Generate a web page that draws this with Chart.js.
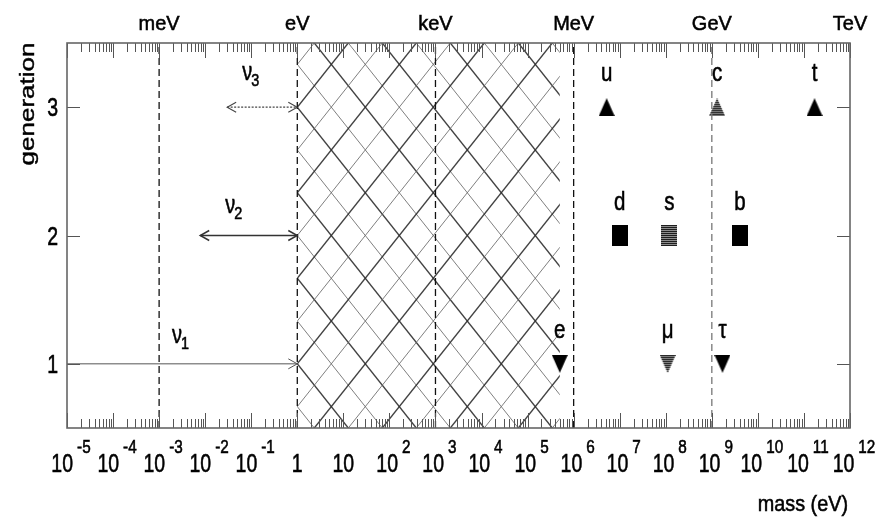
<!DOCTYPE html>
<html><head><meta charset="utf-8">
<script src="https://cdn.jsdelivr.net/npm/chart.js@4/dist/chart.umd.min.js"></script>
<style>html,body{margin:0;padding:0;background:#fff;}#wrap{width:888px;height:518px;}</style>
</head><body><div id="wrap"><canvas id="c" width="888" height="518"></canvas></div>
<script>
// ---- data ----
const xTickValues = [1e-5,1e-4,1e-3,1e-2,1e-1,1,10,1e2,1e3,1e4,1e5,1e6,1e7,1e8,1e9,1e10,1e11,1e12];
const xTickBase = ['10','10','10','10','10','1','10','10','10','10','10','10','10','10','10','10','10','10'];
const xTickSup  = ['-5','-4','-3','-2','-1','','','2','3','4','5','6','7','8','9','10','11','12'];
const yTickValues = [1,2,3];
const yTickLabels = ['1','2','3'];
const unitValues = [1e-3,1,1e3,1e6,1e9,1e12];
const unitLabels = ['meV','eV','keV','MeV','GeV','TeV'];
const dashedValues = [1e-3,1,1e3,1e6,1e9];
const hatchRange = [1,5e5];
const nuNames = ['ν','ν','ν'];
const nuSubs = ['1','2','3'];
const nuLow = [1e-5,7.8e-3,3.0e-2];
const nuHigh = [1,1,1];
const nuGen = [1,2,3];
const gen3Names = ['u','c','t'];  const gen3Mass = [5.2e6,1.3e9,1.7e11];
const gen2Names = ['d','s','b'];  const gen2Mass = [1.0e7,1.2e8,4.1e9];
const gen1Names = ['e','μ','τ'];  const gen1Mass = [5.0e5,1.1e8,1.7e9];

// ---- styling helpers ----
const FONT = '"Liberation Sans", Arial, Helvetica, sans-serif';
function makeMarker(shape, gray){
  const w=16, h=(shape==='rect')?21:18;
  const c=document.createElement('canvas'); c.width=w; c.height=h;
  const g=c.getContext('2d');
  g.beginPath();
  if(shape==='up'){g.moveTo(w/2,0);g.lineTo(w,h);g.lineTo(0,h);}
  else if(shape==='down'){g.moveTo(0,0);g.lineTo(w,0);g.lineTo(w/2,h);}
  else g.rect(0,0,w,h);
  g.closePath();
  if(gray){
    g.fillStyle='#8c8c8c'; g.fill(); g.save(); g.clip();
    g.fillStyle='#1e1e1e'; for(let y=0;y<h;y+=2) g.fillRect(0,y,w,1);
    g.restore();
  } else { g.fillStyle='#000'; g.fill(); }
  return c;
}
const grayIndex = 1;
const mk = {
  up:[makeMarker('up',false),makeMarker('up',true)],
  rect:[makeMarker('rect',false),makeMarker('rect',true)],
  down:[makeMarker('down',false),makeMarker('down',true)]
};
function txt(ctx,s,x,y,size,align,sx,color){
  ctx.save(); ctx.font=size+'px '+FONT; ctx.fillStyle=color||'#000'; ctx.strokeStyle=color||'#000';
  ctx.lineWidth=0.55; ctx.textAlign=align; ctx.textBaseline='alphabetic';
  ctx.translate(x,y); ctx.scale(sx,1); ctx.fillText(s,0,0); ctx.strokeText(s,0,0); ctx.restore();
}
function tw(ctx,s,size,sx){ ctx.save(); ctx.font=size+'px '+FONT; const w=ctx.measureText(s).width*sx; ctx.restore(); return w; }

// ---- datasets ----
const datasets = [];
dashedValues.forEach((v,i)=>{
  datasets.push({data:[{x:v,y:0.5},{x:v,y:3.5}],showLine:true,pointRadius:0,
    borderColor:(v===1e9)?'#777':'#111',borderWidth:1.3,borderDash:[7,4]});
});
const nuStyles=[{c:'#555',w:1,d:[]},{c:'#333',w:1.6,d:[]},{c:'#444',w:1.2,d:[2,1.5]}];
nuLow.forEach((lo,i)=>{
  datasets.push({data:[{x:lo,y:nuGen[i]},{x:nuHigh[i],y:nuGen[i]}],showLine:true,pointRadius:0,
    borderColor:nuStyles[i].c,borderWidth:nuStyles[i].w,borderDash:nuStyles[i].d,nu:i});
});
function particleSet(names,mass,gen,shape){
  return {data:mass.map(m=>({x:m,y:gen})),names:names,showLine:false,pointRadius:10,
    pointStyle:(ctx)=>mk[shape][ctx.dataIndex===grayIndex?1:0]};
}
datasets.push(particleSet(gen3Names,gen3Mass,3,'up'));
datasets.push(particleSet(gen2Names,gen2Mass,2,'rect'));
datasets.push(particleSet(gen1Names,gen1Mass,1,'down'));

// ---- plugins ----
const hatchPlugin = {
  id:'hatch',
  beforeDatasetsDraw(chart){
    const ctx=chart.ctx, xs=chart.scales.x, ys=chart.scales.y, a=chart.chartArea;
    const x1=xs.getPixelForValue(hatchRange[0]), x2=xs.getPixelForValue(hatchRange[1]);
    const y0=ys.getPixelForValue(3);
    const P=(ys.getPixelForValue(2)-ys.getPixelForValue(3))/3;
    const Hx=34;
    ctx.save(); ctx.beginPath(); ctx.rect(x1,a.top,x2-x1,a.bottom-a.top); ctx.clip();
    for(let k=-40;k<=40;k++){
      const dark = (k%2===0);
      ctx.strokeStyle = dark?'rgba(45,45,45,0.9)':'rgba(105,105,105,0.85)';
      ctx.lineWidth = dark?1.4:1.0;
      const xa=x1-10, xb=x2+10;
      ctx.beginPath();
      ctx.moveTo(xa, y0+P*(k+(xa-x1)/Hx)); ctx.lineTo(xb, y0+P*(k+(xb-x1)/Hx));
      ctx.stroke();
      ctx.beginPath();
      ctx.moveTo(xa, y0+P*(k-(xa-x1)/Hx)); ctx.lineTo(xb, y0+P*(k-(xb-x1)/Hx));
      ctx.stroke();
    }
    ctx.restore();
  }
};
const framePlugin = {
  id:'frame',
  afterDatasetsDraw(chart){
    const ctx=chart.ctx, xs=chart.scales.x, ys=chart.scales.y, a=chart.chartArea;
    ctx.save();
    ctx.strokeStyle='#555'; ctx.lineWidth=1;
    ctx.beginPath();
    for(let d=-5; d<=12; d++){
      const px=Math.round(xs.getPixelForValue(Math.pow(10,d)))+0.5;
      ctx.moveTo(px,a.bottom); ctx.lineTo(px,a.bottom-15);
      ctx.moveTo(px,a.top); ctx.lineTo(px,a.top+15);
      if(d<12) for(let k=2;k<=9;k++){
        const p=Math.round(xs.getPixelForValue(k*Math.pow(10,d)))+0.5;
        ctx.moveTo(p,a.bottom); ctx.lineTo(p,a.bottom-9);
        ctx.moveTo(p,a.top); ctx.lineTo(p,a.top+9);
      }
    }
    yTickValues.forEach(v=>{
      const py=Math.round(ys.getPixelForValue(v))+0.5;
      ctx.moveTo(a.left,py); ctx.lineTo(a.left+13,py);
      ctx.moveTo(a.right,py); ctx.lineTo(a.right-13,py);
    });
    ctx.stroke();
    ctx.strokeStyle='#666'; ctx.lineWidth=1.6;
    ctx.strokeRect(a.left,a.top,a.right-a.left,a.bottom-a.top);
    chart.data.datasets.forEach((ds,i)=>{
      if(ds.nu===undefined) return;
      const j=ds.nu, y=ys.getPixelForValue(nuGen[j]);
      const xr=xs.getPixelForValue(nuHigh[j]), xl=xs.getPixelForValue(nuLow[j]);
      ctx.strokeStyle=ds.borderColor; ctx.lineWidth=Math.max(1,ds.borderWidth*0.9); ctx.setLineDash([]);
      ctx.beginPath();
      ctx.moveTo(xr-9,y-5); ctx.lineTo(xr,y); ctx.lineTo(xr-9,y+5);
      if(j>0){ ctx.moveTo(xl+9,y-5); ctx.lineTo(xl,y); ctx.lineTo(xl+9,y+5); }
      ctx.stroke();
    });
    ctx.restore();
  },
  afterDraw(chart){
    const ctx=chart.ctx, xs=chart.scales.x, ys=chart.scales.y, a=chart.chartArea;
    xTickValues.forEach((v,i)=>{
      const px=xs.getPixelForValue(v);
      const b=xTickBase[i], s=xTickSup[i];
      if(!s){ txt(ctx,b,px,472,25,'center',0.78); return; }
      const wb=tw(ctx,b,25,0.78), ws=tw(ctx,s,18,0.85), gap=4;
      const start=px+4-(wb+gap+ws)/2;
      txt(ctx,b,start,472,25,'left',0.78);
      txt(ctx,s,start+wb+gap,453,18,'left',0.85);
    });
    unitValues.forEach((v,i)=>{ txt(ctx,unitLabels[i],xs.getPixelForValue(v),30,21,'center',0.95); });
    yTickValues.forEach((v,i)=>{ txt(ctx,yTickLabels[i],58,ys.getPixelForValue(v)+9,25,'right',0.78); });
    ctx.save(); ctx.font='26px '+FONT; ctx.fillStyle='#000'; ctx.strokeStyle='#000'; ctx.lineWidth=0.55;
    ctx.textAlign='center'; ctx.textBaseline='alphabetic';
    ctx.translate(34,104); ctx.rotate(-Math.PI/2); ctx.scale(1,0.75);
    ctx.fillText('generation',0,0); ctx.strokeText('generation',0,0); ctx.restore();
    txt(ctx,'mass (eV)',848,511,22,'right',0.9);
    chart.data.datasets.forEach((ds,i)=>{
      if(!ds.names) return;
      const meta=chart.getDatasetMeta(i);
      meta.data.forEach((el,k)=>{ txt(ctx,ds.names[k],el.x,el.y-26,25,'center',0.82); });
    });
    const dx=[105,25,15], dy=[-21,-23,-27];
    nuNames.forEach((n,j)=>{
      const xl=xs.getPixelForValue(nuLow[j]), y=ys.getPixelForValue(nuGen[j]);
      const w=tw(ctx,n,25,0.8);
      txt(ctx,n,xl+dx[j],y+dy[j],25,'left',0.8);
      txt(ctx,nuSubs[j],xl+dx[j]+w-1,y+dy[j]+6,17,'left',0.85);
    });
  }
};

new Chart(document.getElementById('c'),{
  type:'scatter',
  data:{datasets:datasets},
  options:{
    responsive:false, animation:false, devicePixelRatio:1,
    layout:{padding:{left:67,top:43,right:38,bottom:90}},
    plugins:{legend:{display:false},tooltip:{enabled:false}},
    scales:{
      x:{type:'logarithmic',min:1e-5,max:1e12,display:false},
      y:{type:'linear',min:0.5,max:3.5,display:false}
    }
  },
  plugins:[hatchPlugin,framePlugin]
});
</script></body></html>
